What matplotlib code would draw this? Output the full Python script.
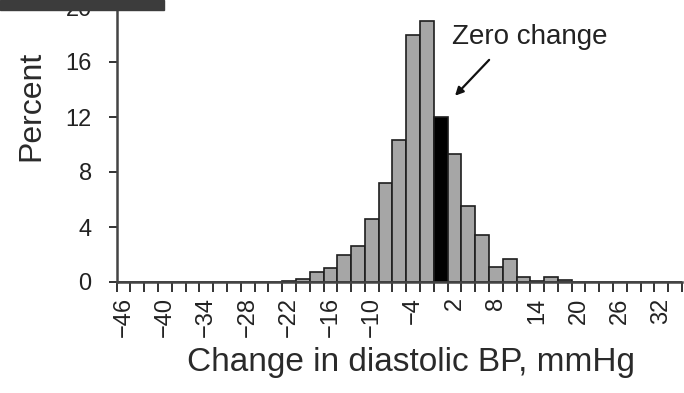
import numpy as np
import matplotlib
matplotlib.use("Agg")
import matplotlib.pyplot as plt
from matplotlib.patches import Rectangle

plt.rcParams['font.family'] = ['Liberation Sans', 'DejaVu Sans']

# bin centres (mmHg), 2 mmHg wide
centers = list(range(-46, 36, 2))
percent = [0, 0, 0, 0, 0, 0, 0, 0, 0, 0, 0,      # -46 .. -26
           0.03, 0.1, 0.25, 0.7, 1.0, 2.0, 2.65,  # -24 .. -12
           4.6, 7.2, 10.3, 18.0, 19.0,            # -10 .. -2
           12.0,                                  # 0
           9.3, 5.5, 3.45, 1.1, 1.65, 0.35, 0.1,  # 2 .. 14
           0.35, 0.12,                            # 16, 18
           0, 0, 0, 0, 0, 0, 0, 0]                # 20 .. 34
label_ticks = list(range(-46, 33, 6))
y_ticks = [0, 4, 8, 12, 16, 20]

fig = plt.figure(figsize=(6.84, 3.93), dpi=100)
ax = fig.add_axes([116.7/684, 111/393, 565.3/684, 275/393])

colors = ['black' if c == 0 else '#a6a6a6' for c in centers]
ax.bar(centers, percent, width=2, color=colors, edgecolor='#1e1e1e', linewidth=1.2, zorder=2)

ax.set_xlim(-47, 35)
ax.set_ylim(0, 20)

# ticks at bin edges, labels under bin centres
ax.set_xticks(np.arange(-47, 36, 2))
ax.set_xticklabels([])
ax.set_xticks(label_ticks, minor=True)
ax.set_xticklabels([str(t).replace('-', '\u2212') for t in label_ticks], minor=True,
                   rotation=90, fontsize=17, color='#222222')
ax.tick_params(axis='x', which='major', length=7, width=1.4, color='#333333', direction='out')
ax.tick_params(axis='x', which='minor', length=0, pad=11)

ax.set_yticks(y_ticks)
ax.set_yticklabels([str(t) for t in y_ticks], fontsize=17, color='#222222')
ax.tick_params(axis='y', length=6, width=1.4, color='#333333', pad=12)

for s in ['top', 'right']:
    ax.spines[s].set_visible(False)
for s in ['left', 'bottom']:
    ax.spines[s].set_color('#444444')
    ax.spines[s].set_linewidth(1.8)

fig.text(31/684, 1 - 106/393, 'Percent', rotation=90, fontsize=23,
         ha='center', va='center', color='#2a2a2a')
fig.text(411/684, 1 - 362/393, 'Change in diastolic BP, mmHg', fontsize=24,
         ha='center', va='center', color='#2a2a2a')

ax.annotate('Zero change', xy=(1.7, 13.5), xytext=(1.7, 17.8),
            fontsize=20, color='#222222', ha='left', va='center')
ax.annotate('', xy=(1.8, 13.4), xytext=(7.3, 16.3),
            arrowprops=dict(arrowstyle='-|>', color='#111111', lw=1.6,
                            mutation_scale=12))

# dark strip at top-left corner of the original image
fig.add_artist(Rectangle((0, 1 - 10/393), 164/684, 10/393, transform=fig.transFigure,
                         color='#3c3c3c', zorder=10))

fig.savefig('out.png', dpi=100)
